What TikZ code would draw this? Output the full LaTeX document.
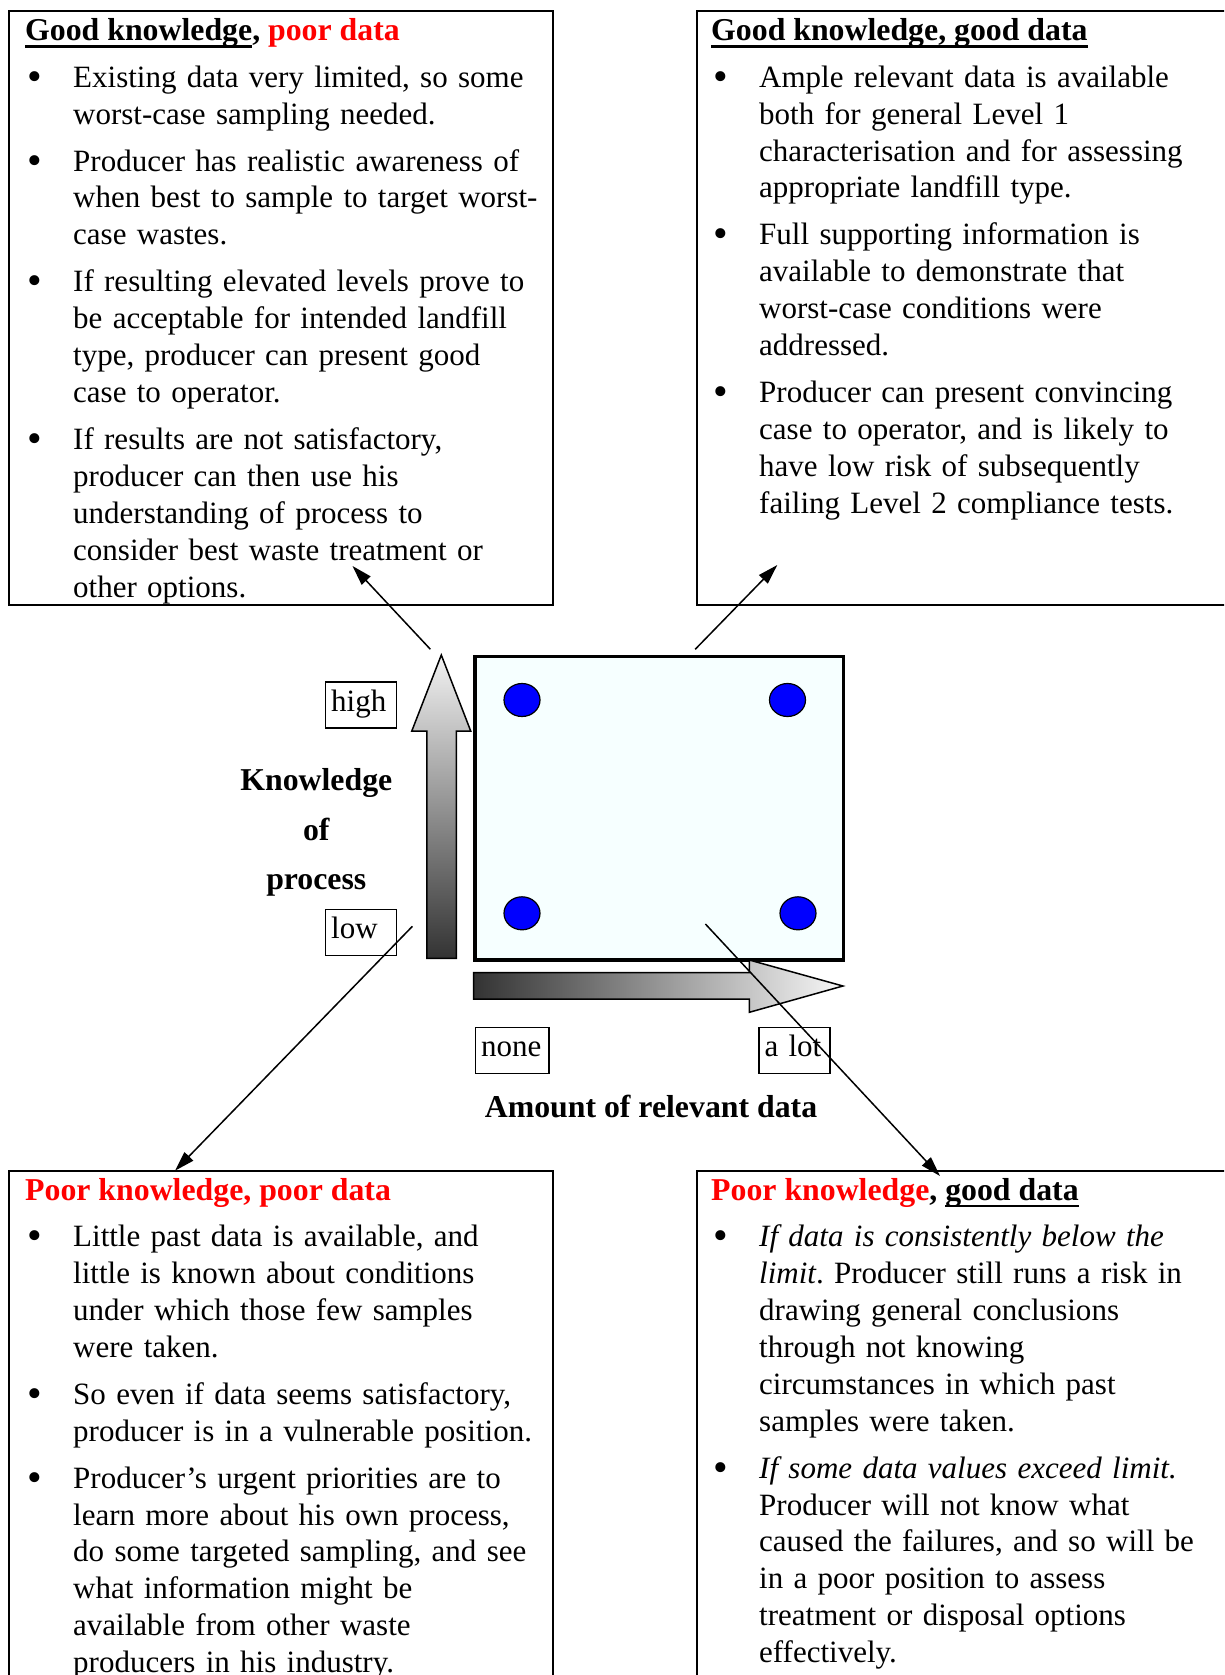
\documentclass[tikz,border=0pt]{standalone}
\usepackage{fontspec}
\setmainfont{Liberation Serif}
\usetikzlibrary{arrows.meta,shapes.geometric}

\definecolor{pdred}{RGB}{255,0,0}
\definecolor{gridfill}{RGB}{246,255,255}
\definecolor{dotblue}{RGB}{0,0,255}

\newsavebox\ulsave
\newcommand{\titleul}[1]{\sbox\ulsave{#1}\rlap{\rule[-7.3pt]{\wd\ulsave}{2.7pt}}\usebox\ulsave}
\newcommand{\bul}{\leavevmode\llap{\makebox[46pt][l]{\raisebox{-3pt}{\scalebox{1.35}{\textbullet}}}}}

\begin{document}
\begin{tikzpicture}[x=1pt, y=-1pt,
    panel/.style={draw, line width=2pt, anchor=north west, outer sep=0pt, inner sep=0pt, minimum width=543.5pt, minimum height=594pt},
    ttl/.style={anchor=base west, inner sep=0pt, font=\fontsize{31.8pt}{36.9pt}\selectfont\bfseries},
    body/.style={anchor=base west, inner sep=0pt, align=left, text width=520pt, font=\fontsize{31pt}{36.9pt}\selectfont\frenchspacing},
    lbl/.style={draw, line width=1.5pt, anchor=north west, outer sep=0pt, inner sep=0pt, inner xsep=5.5pt, text height=21pt, text depth=8pt, minimum height=46pt, align=left, font=\fontsize{31pt}{36.9pt}\selectfont},
    axistitle/.style={inner sep=0pt, font=\fontsize{31.8pt}{49.3pt}\selectfont\bfseries},
    axisarrow/.style={draw=black, line width=1.5pt, line join=miter},
    dot/.style={ellipse, draw=black, line width=1.2pt, fill=dotblue, minimum width=36pt, minimum height=33pt, inner sep=0pt},
    conn/.style={-{Triangle[length=20pt,width=12pt]}, line width=1.5pt}]

    % page
    \useasboundingbox (0,0) rectangle (1224,1675);
    \fill[white] (0,0) rectangle (1224,1675);
    \clip (0,0) rectangle (1224,1675);

    % the four panels
    \node[panel] (gkpd) at (9.3,11) {};
    \node[panel] (gkgd) at (697,11) {};
    \node[panel, minimum height=600pt] (pkpd) at (9.3,1170.7) {};
    \node[panel, minimum height=600pt] (pkgd) at (697,1170.7) {};

    % good knowledge, poor data
    \node[ttl] (gkpdTitle) at (25,40.7) {\titleul{Good knowledge}, \textcolor{pdred}{poor data}};
    \node[body] (gkpdText) at (73,87.3) {%
        \bul Existing data very limited, so some\\
        worst-case sampling needed.\\[10pt]
        \bul Producer has realistic awareness of\\
        when best to sample to target worst-\\
        case wastes.\\[10pt]
        \bul If resulting elevated levels prove to\\
        be acceptable for intended landfill\\
        type, producer can present good\\
        case to operator.\\[10pt]
        \bul If results are not satisfactory,\\
        producer can then use his\\
        understanding of process to\\
        consider best waste treatment or\\
        other options.};

    % good knowledge, good data
    \node[ttl] (gkgdTitle) at (711,40.7) {\titleul{Good knowledge, good data}};
    \node[body] (gkgdText) at (759,87.3) {%
        \bul Ample relevant data is available\\
        both for general Level 1\\
        characterisation and for assessing\\
        appropriate landfill type.\\[10pt]
        \bul Full supporting information is\\
        available to demonstrate that\\
        worst-case conditions were\\
        addressed.\\[10pt]
        \bul Producer can present convincing\\
        case to operator, and is likely to\\
        have low risk of subsequently\\
        failing Level 2 compliance tests.};

    % poor knowledge, poor data
    \node[ttl] (pkpdTitle) at (25,1200) {\textcolor{pdred}{Poor knowledge, poor data}};
    \node[body] (pkpdText) at (73,1246.7) {%
        \bul Little past data is available, and\\
        little is known about conditions\\
        under which those few samples\\
        were taken.\\[10pt]
        \bul So even if data seems satisfactory,\\
        producer is in a vulnerable position.\\[10pt]
        \bul Producer’s urgent priorities are to\\
        learn more about his own process,\\
        do some targeted sampling, and see\\
        what information might be\\
        available from other waste\\
        producers in his industry.};

    % poor knowledge, good data
    \node[ttl] (pkgdTitle) at (711,1200) {\textcolor{pdred}{Poor knowledge}, \titleul{good data}};
    \node[body] (pkgdText) at (759,1246.7) {%
        \bul \textit{If data is consistently below the}\\
        \textit{limit}. Producer still runs a risk in\\
        drawing general conclusions\\
        through not knowing\\
        circumstances in which past\\
        samples were taken.\\[10pt]
        \bul \textit{If some data values exceed limit.}\\
        Producer will not know what\\
        caused the failures, and so will be\\
        in a poor position to assess\\
        treatment or disposal options\\
        effectively.};

    % central grid with the four cases
    \node[draw, line width=3.5pt, fill=gridfill, outer sep=0pt, minimum width=368.5pt, minimum height=303.3pt] (grid) at (659.2,808.3) {};
    \node[dot] (dotGP) at (522,700) {};
    \node[dot] (dotGG) at (787.5,700) {};
    \node[dot] (dotPP) at (522,913.3) {};
    \node[dot] (dotPG) at (798,913.3) {};

    % axis arrows
    \shadedraw[axisarrow, top color=black!5, bottom color=black!80] (426.8,958.3) -- (426.8,731) -- (411.8,731) -- (441.3,655) -- (470.7,731) -- (456.4,731) -- (456.4,958.3) -- cycle;
    \shadedraw[axisarrow, left color=black!80, right color=black!3] (473.6,972.7) -- (749.3,972.7) -- (749.3,960) -- (842.9,986) -- (749.3,1012.3) -- (749.3,999) -- (473.6,999) -- cycle;

    % axis labels
    \node[lbl, text width=59.7pt] (high) at (325.7,682) {high};
    \node[lbl, text width=59.7pt] (low) at (325.7,909.3) {low};
    \node[lbl, text width=62.3pt] (none) at (475.7,1027.3) {none};
    \node[lbl, text width=60pt] (alot) at (759,1027.3) {a lot};
    \node[axistitle, text width=200pt, align=center, anchor=base] (knowledge) at (316.3,790.7) {Knowledge\\of\\process};
    \node[axistitle, anchor=base] (amount) at (651,1117) {Amount of relevant data};

    % connectors from the grid to the panels
    \coordinate (gkpdFrom) at (430.4,649.3);
    \coordinate (gkpdTo) at (352.5,566);
    \coordinate (gkgdFrom) at (695.2,649.3);
    \coordinate (gkgdTo) at (777.3,565);
    \coordinate (pkpdFrom) at (412.4,926.3);
    \coordinate (pkpdTo) at (175,1170.7);
    \coordinate (pkgdFrom) at (705.4,924);
    \coordinate (pkgdTo) at (940,1176);
    \draw[conn] (gkpdFrom) -- (gkpdTo);
    \draw[conn] (gkgdFrom) -- (gkgdTo);
    \draw[conn] (pkpdFrom) -- (pkpdTo);
    \draw[conn] (pkgdFrom) -- (pkgdTo);
\end{tikzpicture}
\end{document}
